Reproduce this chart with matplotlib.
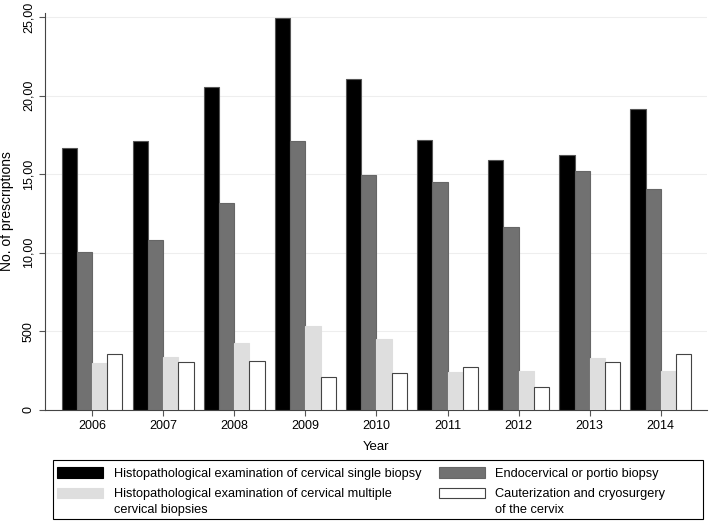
import numpy as np
import matplotlib.pyplot as plt
from matplotlib.patches import Patch, Rectangle
from matplotlib.legend_handler import HandlerPatch

plt.rcParams['font.family'] = ['Liberation Sans', 'DejaVu Sans']

# Datos (miles de prescripciones)
years = ['2006', '2007', '2008', '2009', '2010', '2011', '2012', '2013', '2014']
single_biopsy = [16.64, 17.08, 20.55, 24.96, 21.04, 17.16, 15.89, 16.23, 19.15]
endocervical = [10.07, 10.81, 13.14, 17.08, 14.94, 14.51, 11.61, 15.21, 14.07]
multiple_biopsies = [2.97, 3.35, 4.24, 5.34, 4.51, 2.40, 2.50, 3.28, 2.48]
cauterization = [3.54, 3.07, 3.13, 2.12, 2.33, 2.75, 1.48, 3.03, 3.54]

series_labels = ['Histopathological examination of cervical single biopsy',
                 'Endocervical or portio biopsy',
                 'Histopathological examination of cervical multiple\ncervical biopsies',
                 'Cauterization and cryosurgery\nof the cervix']
y_ticks = [0, 5, 10, 15, 20, 25]
y_ticklabels = ['0', '500', '10,00', '15,00', '20,00', '25,00']

colores = ['#000000', '#717171', '#dedede', '#ffffff']
bordes = ['#555555', '#666666', '#dedede', '#444444']

fig = plt.figure(figsize=(7.09, 5.22), dpi=100)
ax = fig.add_axes([0.0635, 0.2146, 0.9335, 0.7604])

x = np.arange(len(years))
ancho = 0.2125
datos = [single_biopsy, endocervical, multiple_biopsies, cauterization]
for i, serie in enumerate(datos):
    ax.bar(x + (i - 1.5) * ancho, serie, width=ancho, color=colores[i],
           edgecolor=bordes[i], linewidth=0.8, zorder=3)

ax.set_xlim(-0.665, 8.65)
ax.set_ylim(0, 25.25)
ax.set_xticks(x)
ax.set_xticklabels(years, fontsize=9)
ax.set_yticks(y_ticks)
ax.set_yticklabels(y_ticklabels, fontsize=9, rotation=90, va='center')
ax.grid(axis='y', color='#eeeeee', linewidth=0.8, zorder=0)
ax.set_xlabel('Year', fontsize=9.5, labelpad=6)
ax.set_ylabel('No. of prescriptions', fontsize=10, labelpad=6)
ax.tick_params(axis='both', direction='out', length=4, width=0.8, color='#555555')
for lado in ['top', 'right']:
    ax.spines[lado].set_visible(False)
for lado in ['left', 'bottom']:
    ax.spines[lado].set_color('#444444')
    ax.spines[lado].set_linewidth(0.8)

# Leyenda: la muestra de las etiquetas de dos lineas va con la primera linea
fs_leg = 9.2
interlinea = 1.41
subida = 0.5 * interlinea * fs_leg


def muestra_arriba(legend, orig_handle, xdescent, ydescent, width, height, fontsize):
    return Rectangle((-xdescent, -ydescent + subida), width, height)


orden = [0, 2, 1, 3]
handles = [Patch(facecolor=colores[i], edgecolor=bordes[i] if i != 0 else '#000000', linewidth=0.8)
           for i in orden]
labels = [series_labels[i] for i in orden]
mapa = {h: HandlerPatch(patch_func=muestra_arriba)
        for h, lab in zip(handles, labels) if '\n' in lab}
leg = fig.legend(handles, labels, ncol=2, loc='upper left',
                 bbox_to_anchor=(50 / 709, 1 - 460 / 522),
                 fontsize=fs_leg, frameon=False, handler_map=mapa,
                 handlelength=3.6, handleheight=0.85, handletextpad=0.8,
                 columnspacing=1.4, borderaxespad=0, borderpad=0.58,
                 labelspacing=0.63)
for t in leg.get_texts():
    t.set_linespacing(interlinea)
# marco de la leyenda
fig.add_artist(Rectangle((53 / 709, 1 - 519 / 522), 650 / 709, 59 / 522,
                         transform=fig.transFigure, fill=False,
                         edgecolor='#000000', linewidth=0.8))

fig.savefig('out.png', dpi=100)
